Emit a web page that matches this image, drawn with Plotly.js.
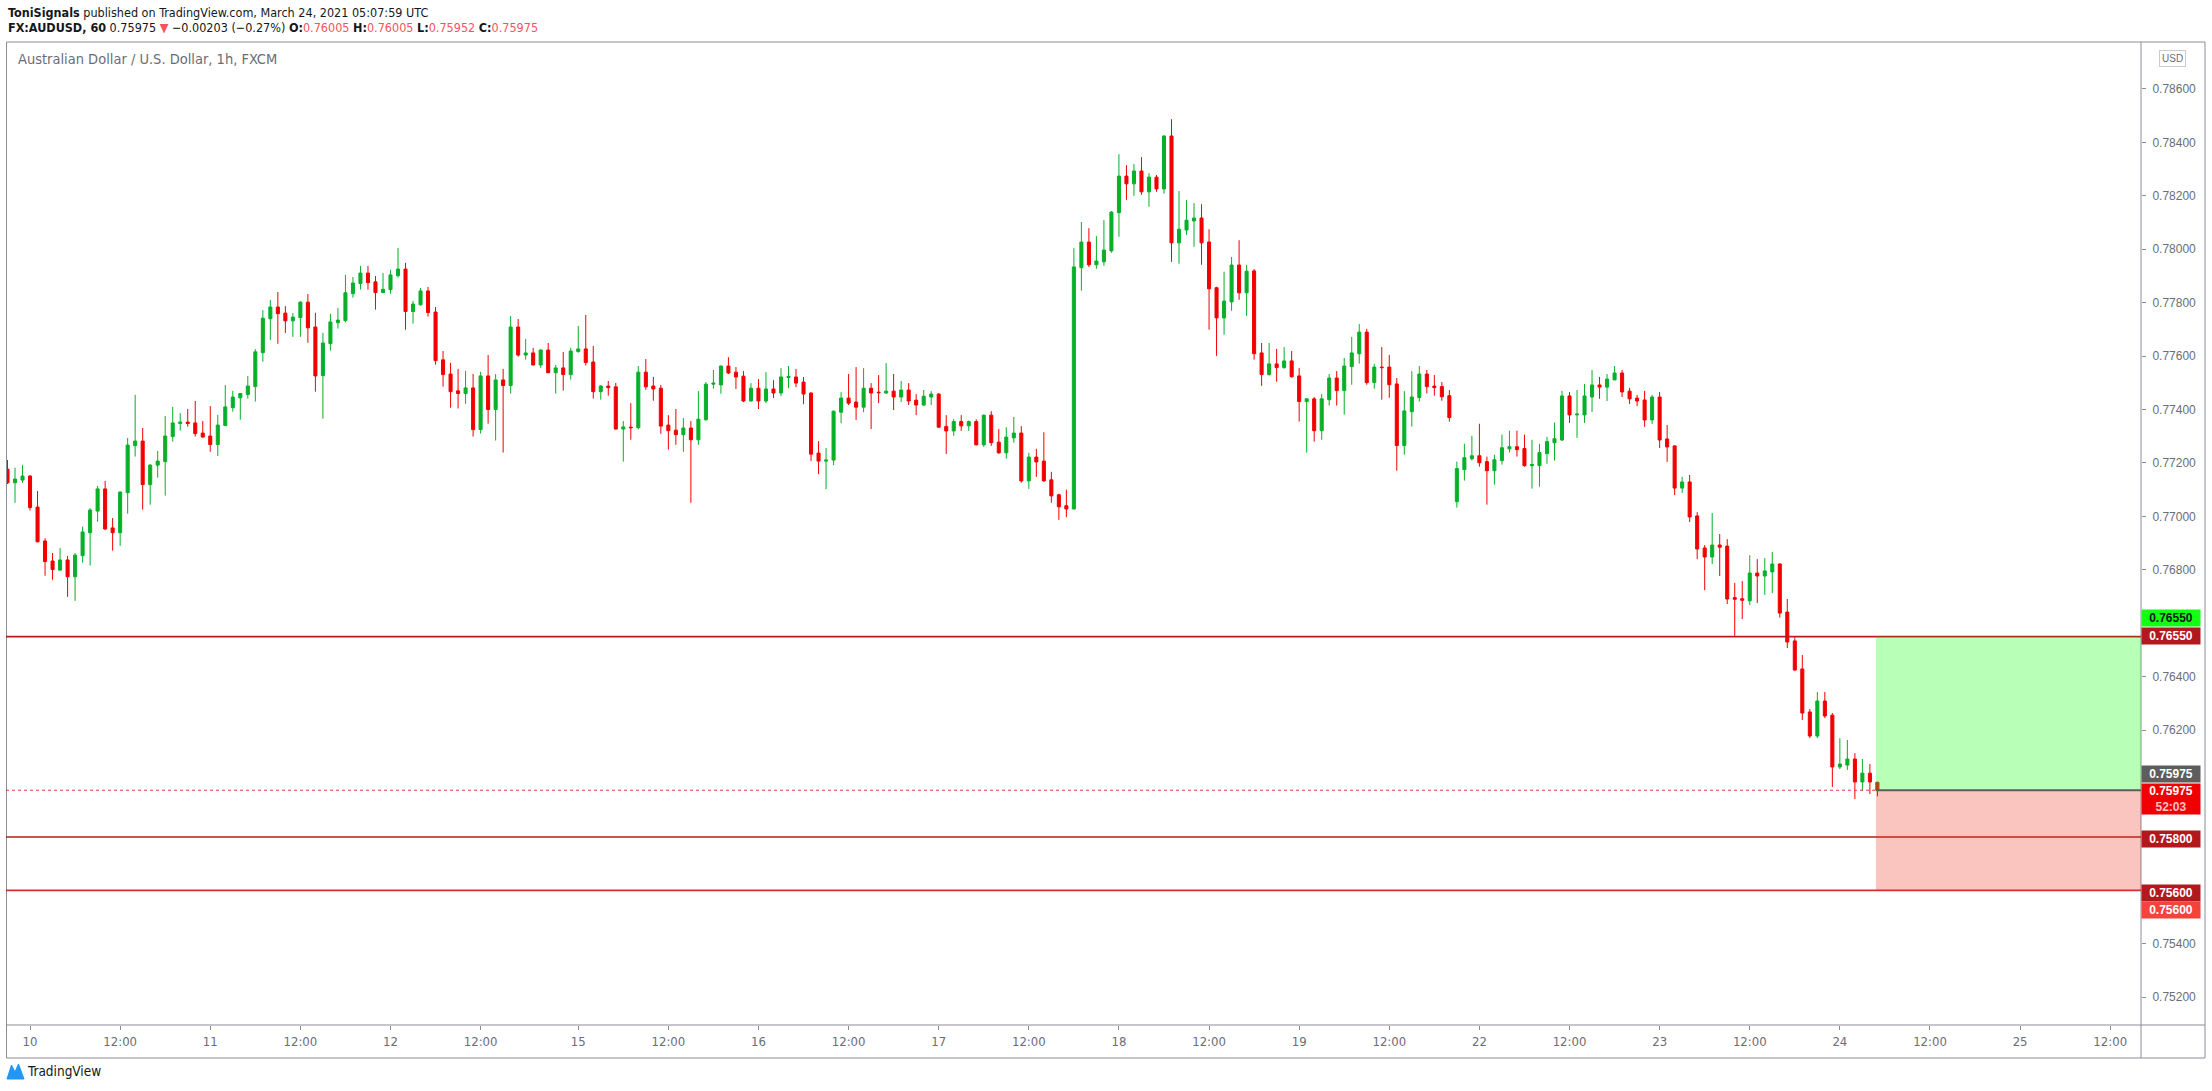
<!DOCTYPE html>
<html>
<head>
<meta charset="utf-8">
<script src="https://cdn.plot.ly/plotly-3.0.1.min.js"></script>
<style>
  html, body { margin: 0; padding: 0; background: #fff; }
  #chart { width: 2212px; height: 1091px; }
</style>
</head>
<body>
<div id="chart"></div>
<script>
// AUDUSD 1h bars, FXCM. Bar index 0 = Mar 10 00:00 UTC, weekend gaps removed like TradingView does.
const firstBar = -3;
const opens = [
  .77177,.77126,.77136,.77151,.77035,.76908,.76833,.76799,.76837,.76774,
  .76853,.76939,.77020,.77103,.76957,.76939,.77089,.77265,.77282,.77119,
  .77192,.77205,.77299,.77348,.77353,.77350,.77312,.77301,.77269,.77340,
  .77407,.77444,.77456,.77486,.77613,.77740,.77784,.77761,.77732,.77744,
  .77802,.77709,.77527,.77647,.77725,.77733,.77834,.77872,.77911,.77878,
  .77838,.77849,.77901,.77926,.77767,.77792,.77844,.77765,.77586,.77533,
  .77470,.77460,.77481,.77325,.77526,.77400,.77511,.77490,.77709,.77604,
  .77612,.77567,.77623,.77538,.77556,.77531,.77617,.77627,.77578,.77467,
  .77488,.77485,.77327,.77334,.77332,.77540,.77488,.77480,.77342,.77323,
  .77306,.77331,.77287,.77362,.77495,.77492,.77563,.77540,.77525,.77432,
  .77480,.77432,.77477,.77462,.77520,.77522,.77503,.77462,.77237,.77207,
  .77211,.77390,.77443,.77428,.77409,.77480,.77465,.77462,.77469,.77447,
  .77473,.77435,.77417,.77447,.77458,.77337,.77320,.77355,.77339,.77355,
  .77268,.77379,.77278,.77238,.77294,.77312,.77133,.77222,.77207,.77137,
  .77081,.77040,.77028,.77931,.78027,.77942,.77953,.77994,.78137,.78274,
  .78245,.78293,.78215,.78270,.78226,.78424,.78024,.78072,.78106,.78117,
  .78027,.77856,.77743,.77803,.77941,.77837,.77919,.77612,.77531,.77571,
  .77557,.77582,.77526,.77430,.77440,.77321,.77437,.77518,.77471,.77561,
  .77609,.77690,.77501,.77559,.77559,.77496,.77265,.77392,.77445,.77533,
  .77488,.77486,.77452,.77055,.77175,.77216,.77227,.77205,.77171,.77209,
  .77253,.77261,.77254,.77190,.77190,.77235,.77276,.77286,.77451,.77380,
  .77380,.77447,.77492,.77484,.77511,.77537,.77469,.77443,.77436,.77361,
  .77447,.77290,.77264,.77106,.77129,.77002,.76882,.76848,.76893,.76889,
  .76696,.76692,.76684,.76788,.76777,.76792,.76822,.76642,.76534,.76429,
  .76268,.76178,.76309,.76256,.76062,.76069,.76092,.76006,.76039,.76005
];
const highs = [
  .77211,.77182,.77192,.77155,.77095,.76918,.76863,.76882,.76852,.76863,
  .76962,.77031,.77114,.77133,.76994,.77094,.77294,.77455,.77331,.77196,
  .77245,.77376,.77410,.77387,.77402,.77432,.77357,.77413,.77380,.77492,
  .77470,.77462,.77526,.77626,.77772,.77810,.77840,.77787,.77761,.77806,
  .77832,.77762,.77687,.77758,.77780,.77904,.77896,.77938,.77938,.77900,
  .77911,.77923,.78005,.77949,.77807,.77855,.77859,.77784,.77619,.77575,
  .77552,.77545,.77533,.77541,.77604,.77533,.77552,.77750,.77739,.77664,
  .77631,.77625,.77649,.77567,.77616,.77631,.77713,.77754,.77638,.77492,
  .77507,.77500,.77357,.77424,.77563,.77589,.77522,.77492,.77379,.77402,
  .77368,.77357,.77469,.77503,.77548,.77565,.77596,.77559,.77544,.77499,
  .77514,.77540,.77510,.77555,.77563,.77552,.77522,.77464,.77282,.77256,
  .77396,.77465,.77533,.77559,.77555,.77499,.77529,.77574,.77533,.77507,
  .77499,.77458,.77473,.77469,.77462,.77379,.77364,.77379,.77359,.77363,
  .77381,.77394,.77327,.77334,.77372,.77338,.77238,.77253,.77315,.77167,
  .77085,.77100,.78004,.78102,.78079,.78049,.78109,.78143,.78356,.78315,
  .78319,.78345,.78285,.78278,.78427,.78487,.78218,.78184,.78173,.78169,
  .78075,.77860,.77916,.77971,.78034,.77942,.77926,.77649,.77649,.77627,
  .77634,.77619,.77556,.77443,.77447,.77458,.77533,.77544,.77593,.77672,
  .77720,.77702,.77571,.77634,.77604,.77518,.77469,.77544,.77563,.77548,
  .77529,.77503,.77473,.77205,.77272,.77302,.77347,.77224,.77231,.77306,
  .77321,.77321,.77306,.77287,.77272,.77298,.77351,.77470,.77466,.77473,
  .77496,.77548,.77522,.77533,.77563,.77548,.77481,.77455,.77470,.77455,
  .77466,.77342,.77266,.77148,.77155,.77016,.76893,.77013,.76934,.76915,
  .76751,.76758,.76855,.76840,.76844,.76867,.76824,.76691,.76548,.76481,
  .76279,.76343,.76343,.76264,.76170,.76163,.76114,.76092,.76073,.76005
];
const lows = [
  .77121,.77051,.77126,.77022,.76903,.76778,.76763,.76797,.76699,.76684,
  .76827,.76816,.76980,.76949,.76872,.76890,.77010,.77224,.77025,.77044,
  .77145,.77078,.77280,.77321,.77336,.77299,.77295,.77242,.77226,.77338,
  .77392,.77362,.77441,.77430,.77579,.77660,.77646,.77687,.77672,.77672,
  .77650,.77467,.77366,.77621,.77703,.77727,.77819,.77849,.77849,.77774,
  .77836,.77834,.77894,.77699,.77722,.77789,.77748,.77568,.77486,.77407,
  .77404,.77422,.77299,.77310,.77347,.77284,.77239,.77460,.77598,.77587,
  .77565,.77556,.77536,.77460,.77471,.77512,.77613,.77565,.77441,.77437,
  .77452,.77325,.77205,.77287,.77326,.77474,.77433,.77309,.77250,.77268,
  .77242,.77051,.77268,.77358,.77478,.77459,.77533,.77477,.77428,.77430,
  .77402,.77424,.77443,.77450,.77480,.77484,.77420,.77207,.77158,.77102,
  .77192,.77349,.77417,.77361,.77390,.77327,.77424,.77458,.77398,.77428,
  .77417,.77379,.77413,.77417,.77331,.77234,.77302,.77320,.77320,.77266,
  .77260,.77264,.77234,.77216,.77276,.77126,.77103,.77148,.77129,.77051,
  .76987,.76997,.77026,.77845,.77934,.77927,.77938,.77987,.78047,.78185,
  .78200,.78204,.78159,.78215,.78208,.77953,.77946,.78054,.78009,.77942,
  .77699,.77601,.77680,.77770,.77811,.77751,.77587,.77489,.77527,.77504,
  .77553,.77519,.77355,.77239,.77280,.77287,.77415,.77415,.77381,.77493,
  .77572,.77493,.77478,.77437,.77444,.77171,.77231,.77336,.77430,.77460,
  .77452,.77433,.77355,.77033,.77134,.77209,.77186,.77044,.77119,.77194,
  .77239,.77224,.77186,.77104,.77111,.77197,.77209,.77282,.77350,.77294,
  .77350,.77391,.77440,.77432,.77511,.77447,.77421,.77413,.77335,.77346,
  .77256,.77204,.77080,.77088,.76979,.76840,.76724,.76822,.76777,.76672,
  .76553,.76616,.76668,.76676,.76706,.76713,.76621,.76507,.76421,.76238,
  .76170,.76170,.76245,.75987,.76054,.76051,.75942,.75972,.75961,.75952
];
const closes = [
  .77126,.77140,.77151,.77033,.76905,.76831,.76801,.76837,.76774,.76855,
  .76942,.77024,.77103,.76953,.76939,.77091,.77267,.77282,.77119,.77192,
  .77207,.77301,.77350,.77353,.77348,.77310,.77297,.77269,.77342,.77410,
  .77447,.77460,.77488,.77616,.77742,.77784,.77759,.77732,.77746,.77802,
  .77706,.77526,.77649,.77728,.77735,.77837,.77874,.77911,.77875,.77838,
  .77850,.77904,.77926,.77767,.77795,.77844,.77763,.77583,.77531,.77467,
  .77460,.77481,.77325,.77526,.77400,.77511,.77490,.77709,.77604,.77612,
  .77567,.77623,.77538,.77556,.77531,.77619,.77627,.77576,.77467,.77488,
  .77482,.77327,.77335,.77332,.77540,.77485,.77477,.77338,.77321,.77306,
  .77331,.77287,.77364,.77495,.77499,.77563,.77537,.77522,.77432,.77480,
  .77432,.77477,.77462,.77522,.77524,.77499,.77458,.77233,.77207,.77211,
  .77394,.77443,.77424,.77409,.77480,.77462,.77463,.77469,.77447,.77473,
  .77432,.77417,.77450,.77458,.77334,.77320,.77355,.77339,.77355,.77268,
  .77379,.77276,.77238,.77297,.77312,.77133,.77222,.77204,.77133,.77077,
  .77036,.77028,.77934,.78027,.77942,.77956,.77997,.78139,.78274,.78245,
  .78293,.78215,.78270,.78226,.78424,.78024,.78075,.78109,.78117,.78024,
  .77852,.77743,.77806,.77941,.77837,.77918,.77609,.77531,.77571,.77557,
  .77582,.77523,.77430,.77440,.77321,.77440,.77518,.77471,.77563,.77612,
  .77690,.77501,.77559,.77557,.77493,.77265,.77395,.77447,.77533,.77486,
  .77482,.77448,.77370,.77179,.77220,.77227,.77201,.77171,.77212,.77257,
  .77261,.77250,.77190,.77194,.77239,.77280,.77291,.77451,.77380,.77383,
  .77451,.77492,.77484,.77514,.77537,.77466,.77440,.77432,.77361,.77447,
  .77286,.77260,.77106,.77129,.76998,.76878,.76848,.76893,.76885,.76691,
  .76690,.76686,.76788,.76777,.76796,.76822,.76638,.76530,.76425,.76264,
  .76178,.76309,.76253,.76062,.76073,.76092,.76006,.76039,.76006,.75975
];

const tickBars = [0, 12, 24, 36, 48, 60, 73, 85, 97, 109, 121, 133, 145, 157, 169, 181, 193, 205, 217, 229, 241, 253, 265, 277];
const tickLabels = ["10", "12:00", "11", "12:00", "12", "12:00", "15", "12:00", "16", "12:00", "17", "12:00",
                    "18", "12:00", "19", "12:00", "22", "12:00", "23", "12:00", "24", "12:00", "25", "12:00"];
const priceTicks = [0.752, 0.754, 0.762, 0.764, 0.768, 0.770, 0.772, 0.774, 0.776, 0.778, 0.780, 0.782, 0.784, 0.786];

// trade levels drawn on the chart
const targetPrice = 0.7655;
const entryPrice = 0.75975;
const stopPrice = 0.758;
const stop2Price = 0.756;
const positionStartBar = 245.8;

// ---------- geometry of the snapshot (pixels) ----------
const W = 2212, H = 1091;
const PL = 6, PR = 2141, PT = 42, PB = 1025;      // plot area
const FRAME_R = 2205, FRAME_B = 1058;
const xRange = [-3.2, 281.1];
const yRange = [0.750962, 0.787759];

const px = (x) => (x - PL) / (PR - PL);
const py = (y) => (PB - y) / (PB - PT);

const FONT = '"Liberation Sans Narrow", "DejaVu Sans Condensed", "Liberation Sans", Arial, sans-serif';
const FONT_REG = '"Liberation Sans", Arial, sans-serif';
const GREEN = "#08b02a", RED = "#f20000", FRAME = "#8a8d96", TXT_GRAY = "#6a6d78", RED_TXT = "#f7525f";

const bars = opens.map((_, k) => k + firstBar);

const candles = {
    type: "candlestick", x: bars, open: opens, high: highs, low: lows, close: closes,
    increasing: { line: { color: GREEN, width: 1 }, fillcolor: GREEN },
    decreasing: { line: { color: RED, width: 1 }, fillcolor: RED },
    whiskerwidth: 0, hoverinfo: "skip", showlegend: false,
};

function hline(y, color, width, dash, x0, x1, xref) {
    return { type: "line", xref: xref || "paper", yref: "y", x0: x0 === undefined ? 0 : x0, x1: x1 === undefined ? 1 : x1,
             y0: y, y1: y, line: { color, width, dash: dash || "solid" }, layer: "above" };
}

const shapes = [
    // frame around chart, price scale and time scale
    { type: "rect", xref: "paper", yref: "paper", x0: px(6.5), x1: px(FRAME_R), y0: py(FRAME_B), y1: py(PT), line: { color: FRAME, width: 1 } },
    { type: "line", xref: "paper", yref: "paper", x0: 1, x1: 1, y0: py(FRAME_B), y1: py(PT), line: { color: FRAME, width: 1 } },
    { type: "line", xref: "paper", yref: "paper", x0: px(6.5), x1: px(FRAME_R), y0: 0, y1: 0, line: { color: FRAME, width: 1 } },
    // levels
    hline(targetPrice, "#b71c1c", 1.6),
    hline(stopPrice, "#b71c1c", 1.6),
    hline(stop2Price, "#d32f2f", 1.6),
    hline(entryPrice, "#f23645", 1, "dot", xRange[0], positionStartBar, "x"),
    // long position tool
    { type: "rect", xref: "x", yref: "y", x0: positionStartBar, x1: xRange[1], y0: entryPrice, y1: targetPrice,
      fillcolor: "rgba(0,255,0,0.28)", line: { width: 0 }, layer: "above" },
    { type: "rect", xref: "x", yref: "y", x0: positionStartBar, x1: xRange[1], y0: stop2Price, y1: entryPrice,
      fillcolor: "rgba(240,40,20,0.27)", line: { width: 0 }, layer: "above" },
    hline(entryPrice, "#5d5d5d", 2, "solid", positionStartBar, xRange[1], "x"),
];

// TradingView logo mark (bottom left)
const logoPts = [[7, 1079], [11.5, 1065], [15, 1072], [18.5, 1064], [24, 1079]];
shapes.push({
    type: "path", xref: "paper", yref: "paper", fillcolor: "#2196f3", line: { color: "#2196f3", width: 1 },
    path: logoPts.map((p, i) => (i ? "L" : "M") + px(p[0]) + "," + py(p[1])).join(" ") + " Z",
});

function label(x, y, text, opts) {
    return Object.assign({
        xref: "paper", yref: "paper", x: px(x), y: py(y), text, showarrow: false,
        xanchor: "left", yanchor: "middle", font: { family: FONT, size: 12.5, color: "#131722" },
    }, opts || {});
}

const red = (s) => `<span style="color:${RED_TXT}">${s}</span>`;
const annotations = [
    label(6, 12, "<b>ToniSignals</b> published on TradingView.com, March 24, 2021 05:07:59 UTC"),
    label(6, 28, `<b>FX:AUDUSD, 60</b> 0.75975 ${red("▼")} −0.00203 (−0.27%) <b>O:</b>${red("0.76005")} <b>H:</b>${red("0.76005")} <b>L:</b>${red("0.75952")} <b>C:</b>${red("0.75975")}`),
    label(16, 59, "Australian Dollar / U.S. Dollar, 1h, FXCM", { font: { family: FONT, size: 14.5, color: TXT_GRAY } }),
    label(2172, 58.5, "USD", { xanchor: "center", bordercolor: "#c9cbd1", borderwidth: 1, borderpad: 2,
                               font: { family: FONT_REG, size: 10, color: TXT_GRAY } }),
    label(25, 1071, "TradingView", { font: { family: FONT, size: 13.5, color: "#131722" } }),
];

// price-scale tags
const tags = [
    { p: 0.76618, t: "0.76550", bg: "#13ff13", fc: "#131722" },
    { p: 0.76554, t: "0.76550", bg: "#b2191d", fc: "#ffffff" },
    { p: 0.76035, t: "0.75975", bg: "#5d5d5d", fc: "#ffffff" },
    { p: 0.75943, t: "0.75975<br><span style=\"color:#ffc2c2\">52:03</span>", bg: "#f00000", fc: "#ffffff", h: 30 },
    { p: 0.75792, t: "0.75800", bg: "#b2191d", fc: "#ffffff" },
    { p: 0.75591, t: "0.75600", bg: "#b2191d", fc: "#ffffff" },
    { p: 0.75528, t: "0.75600", bg: "#f4433a", fc: "#ffffff" },
];
tags.forEach((g) => annotations.push({
    xref: "paper", yref: "y", x: 1, y: g.p, xanchor: "left", yanchor: "middle", showarrow: false,
    text: g.t, bgcolor: g.bg, width: 58, height: g.h || 16, borderpad: 0, align: "center",
    font: { family: FONT_REG, size: 12, color: g.fc, weight: 600 },
}));

const layout = {
    width: W, height: H,
    margin: { l: PL, r: W - PR, t: PT, b: H - PB },
    paper_bgcolor: "#ffffff", plot_bgcolor: "#ffffff",
    showlegend: false, dragmode: false, boxgap: 0.42,
    xaxis: {
        range: xRange, tickmode: "array", tickvals: tickBars, ticktext: tickLabels,
        showgrid: false, zeroline: false, showline: false,
        ticks: "outside", ticklen: 4, tickcolor: FRAME, tickwidth: 1,
        tickfont: { family: FONT, size: 13, color: TXT_GRAY },
        rangeslider: { visible: false }, fixedrange: true,
    },
    yaxis: {
        range: yRange, side: "right", tickmode: "array", tickvals: priceTicks,
        ticktext: priceTicks.map((v) => v.toFixed(5)),
        showgrid: false, zeroline: false, showline: false,
        ticks: "outside", ticklen: 4, tickcolor: FRAME, tickwidth: 1, ticklabelstandoff: 4,
        tickfont: { family: FONT_REG, size: 12, color: TXT_GRAY }, fixedrange: true,
    },
    shapes, annotations,
};

Plotly.newPlot("chart", [candles], layout, { displayModeBar: false, staticPlot: true });
</script>
</body>
</html>
